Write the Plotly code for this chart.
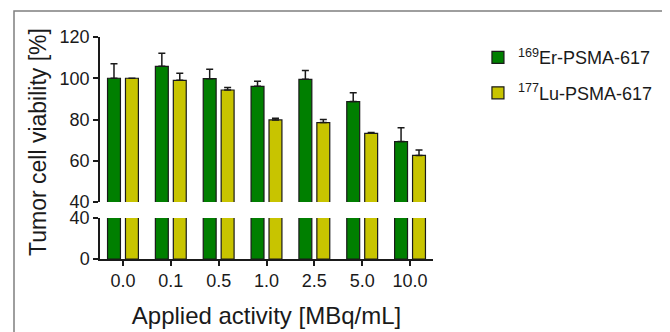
import plotly.graph_objects as go

categories = ["0.0", "0.1", "0.5", "1.0", "2.5", "5.0", "10.0"]
er_values = [100.0, 105.8, 99.8, 96.1, 99.5, 88.7, 69.3]
er_errors = [7.0, 6.3, 4.6, 2.4, 4.2, 4.3, 6.7]
lu_values = [100.0, 99.0, 94.3, 79.8, 78.5, 73.3, 62.6]
lu_errors = [0.0, 3.4, 1.2, 0.8, 1.5, 0.4, 2.6]

upper_ticks = [40, 60, 80, 100, 120]
lower_ticks = [0, 40]

GREEN = "#007f00"
YELLOW = "#c8c400"
FONT = "Liberation Sans, Arial, sans-serif"

fig = go.Figure()


def add_series(name, values, errors, color, xa, ya, show, group):
    fig.add_trace(go.Bar(
        x=categories, y=values, name=name, legendgroup=group,
        showlegend=show, xaxis=xa, yaxis=ya,
        marker=dict(color=color, line=dict(color="#1a1a1a", width=1.2)),
        error_y=dict(type="data", symmetric=False, array=errors,
                     arrayminus=[0] * len(errors), color="#1a1a1a",
                     thickness=1.5, width=3.5),
    ))


# lower panel (0-40)
add_series("<sup>169</sup>Er-PSMA-617", er_values, [0] * 7, GREEN, "x", "y", False, "er")
add_series("<sup>177</sup>Lu-PSMA-617", lu_values, [0] * 7, YELLOW, "x", "y", False, "lu")
# upper panel (40-120)
add_series("<sup>169</sup>Er-PSMA-617", er_values, er_errors, GREEN, "x2", "y2", True, "er")
add_series("<sup>177</sup>Lu-PSMA-617", lu_values, lu_errors, YELLOW, "x2", "y2", True, "lu")

axis_common = dict(showgrid=False, zeroline=False, showline=True,
                   linecolor="#1a1a1a", linewidth=1.5, ticks="outside",
                   ticklen=5, tickwidth=1.5, tickcolor="#1a1a1a",
                   tickfont=dict(family=FONT, size=18, color="#1a1a1a"))

# page has an 8px body margin, so plot geometry is offset accordingly
L, T, W, H = 92, 29, 333.0, 222.0
B = T + H
fig.update_layout(
    width=670, height=332,
    margin=dict(l=L, r=670 - L - int(W), t=T, b=332 - int(B)),
    paper_bgcolor="white", plot_bgcolor="white",
    barmode="group", bargap=0.25, bargroupgap=0.28,
    font=dict(family=FONT, color="#1a1a1a"),
    xaxis=dict(anchor="y", domain=[0, 1], range=[-0.48, 6.48],
               type="category",
               title=dict(text="Applied activity [MBq/mL]",
                          font=dict(family=FONT, size=24, color="#1a1a1a"),
                          standoff=17),
               **axis_common),
    xaxis2=dict(anchor="y2", matches="x", domain=[0, 1], visible=False,
                type="category"),
    yaxis=dict(anchor="x", domain=[0, 41 / H], range=[0, 40],
               tickvals=lower_ticks, **axis_common),
    yaxis2=dict(anchor="x2", domain=[57 / H, 1], range=[40, 120],
                tickvals=upper_ticks, **axis_common),
    legend=dict(x=1.135, y=0.99, xanchor="left", yanchor="top",
                font=dict(family=FONT, size=18, color="#1a1a1a"),
                tracegroupgap=9, traceorder="grouped",
                bgcolor="rgba(0,0,0,0)"),
    annotations=[dict(text="Tumor cell viability [%]", textangle=-90,
                      xref="paper", yref="paper", x=(30 - L) / W, y=117 / H,
                      xanchor="center", yanchor="middle", showarrow=False,
                      font=dict(family=FONT, size=23, color="#1a1a1a"))],
    shapes=[dict(type="rect", xref="paper", yref="paper",
                 x0=(6 - L) / W, x1=(659 - L) / W,
                 y0=(B - 340) / H, y1=(B - 3) / H,
                 line=dict(color="#7f7f7f", width=1.5),
                 fillcolor="rgba(0,0,0,0)", layer="below")],
)

fig.write_html("out.html")
